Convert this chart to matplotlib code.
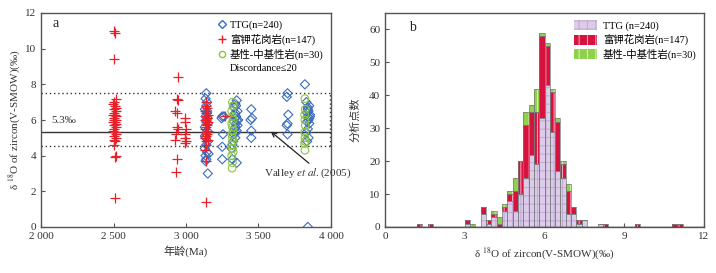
import numpy as np
import matplotlib
matplotlib.use('Agg')
from matplotlib import pyplot as plt
from matplotlib.patches import Patch
from matplotlib.lines import Line2D

plt.rcParams['font.family'] = ['Liberation Serif', 'Noto Sans CJK SC']
plt.rcParams['mathtext.fontset'] = 'stix'
plt.rcParams['hatch.linewidth'] = 0.8

# ---- panel a: age vs d18O ----
# TTG (blue diamonds)
ttg_age = [3140, 3135, 3145, 3140, 3130, 3145, 3135, 3140, 3150, 3130, 3145, 3140, 3135, 3150, 3140,
           3130, 3145, 3135, 3155, 3140, 3150, 3135, 3145, 3140, 3130, 3150,
           3250, 3245, 3255, 3250, 3250, 3262,
           3350, 3340, 3345, 3330, 3355, 3335, 3345, 3340, 3350, 3330, 3345, 3355, 3340, 3335,
           3350, 3345, 3330, 3340, 3325, 3320, 3315, 3320, 3350, 3360, 3340,
           3450, 3455, 3445, 3450, 3450,
           3700, 3695, 3705, 3700, 3695, 3700,
           3820, 3830, 3850, 3840, 3845, 3835, 3855, 3840, 3850, 3845, 3835, 3850, 3840, 3830, 3845,
           3835, 3840, 3855, 3840]
ttg_d18o = [7.5, 7.2, 7.0, 6.8, 6.6, 6.4, 6.2, 6.0, 5.8, 5.6, 5.4, 5.2, 5.0, 4.8, 4.6,
            4.4, 4.2, 4.0, 4.1, 3.8, 3.0, 3.7, 6.5, 5.9, 5.1, 6.1,
            6.2, 6.1, 5.2, 4.5, 3.8, 6.2,
            7.1, 6.9, 6.8, 6.7, 6.5, 6.3, 6.2, 6.1, 6.0, 5.9, 5.8, 5.7, 5.6, 5.5,
            5.4, 5.3, 5.2, 5.0, 4.8, 4.6, 4.4, 3.8, 3.6, 6.0, 6.4,
            6.6, 6.1, 6.0, 5.4, 5.0,
            7.5, 7.3, 6.3, 5.8, 5.7, 5.2,
            8.0, 7.0, 6.8, 6.6, 6.5, 6.4, 6.3, 6.2, 6.1, 6.0, 5.9, 5.8, 5.5, 5.3, 5.0,
            4.8, 6.7, 6.2, 0.0]

# K-rich granite (red crosses)
kg_age = [2505, 2510, 2500, 2515, 2505, 2495, 2510, 2520, 2500, 2515, 2505, 2495, 2510, 2520, 2500,
          2515, 2505, 2495, 2510, 2520, 2500, 2515, 2505, 2495, 2510, 2520, 2500, 2515, 2505, 2510,
          2505, 2515, 2510, 2510,
          2945, 2935, 2945, 2925, 2935, 2935, 2945, 2930, 2925, 2940, 2930,
          2995, 2990, 3000, 2995, 2990, 3000, 2995,
          3140, 3135, 3145, 3130, 3140, 3150, 3135, 3145, 3140, 3130, 3150, 3135, 3145, 3140,
          3130, 3150, 3135, 3145, 3140, 3130, 3150, 3135, 3140, 3130, 3140, 3140,
          3270]
kg_d18o = [11.0, 10.9, 9.4, 7.2, 7.0, 6.9, 6.8, 6.7, 6.6, 6.5, 6.4, 6.3, 6.3, 6.2, 6.1,
           6.0, 6.0, 5.9, 5.9, 5.8, 5.7, 5.6, 5.5, 5.4, 5.3, 5.2, 5.1, 5.0, 4.9, 4.8,
           4.6, 4.0, 3.9, 1.6,
           8.4, 7.2, 7.1, 6.5, 6.4, 5.6, 5.5, 5.2, 4.9, 3.8, 3.1,
           6.1, 5.9, 5.5, 5.2, 5.0, 4.8, 4.7,
           7.0, 6.8, 6.7, 6.5, 6.4, 6.3, 6.2, 6.1, 6.0, 6.0, 5.9, 5.8, 5.7, 5.6,
           5.5, 5.4, 5.3, 5.2, 5.1, 5.0, 4.9, 4.8, 4.6, 4.3, 3.7, 1.4,
           6.2]

# mafic-intermediate (green circles)
mb_age = [3320, 3325, 3315, 3320, 3325, 3315, 3320, 3325, 3315, 3320, 3325, 3315, 3320, 3325,
          3315, 3320, 3318,
          3820, 3822, 3818, 3820, 3822, 3818, 3820, 3822, 3818, 3820]
mb_d18o = [7.0, 6.8, 6.5, 6.2, 6.0, 5.8, 5.6, 5.4, 5.2, 5.0, 4.8, 4.6, 4.4, 4.2,
           4.0, 3.6, 3.3,
           7.2, 6.6, 6.3, 6.0, 5.7, 5.3, 5.0, 4.8, 4.7, 4.3]

# ---- panel b: stacked histogram, bin width 0.2 ----
bin_left = [1.2, 1.6, 3.0, 3.2, 3.6, 3.8, 4.0, 4.2, 4.4, 4.6, 4.8, 5.0, 5.2, 5.4, 5.6, 5.8,
            6.0, 6.2, 6.4, 6.6, 6.8, 7.0, 7.2, 7.4, 8.0, 8.2, 9.4, 10.8, 11.0]
ttg_cnt = [0, 0, 1, 0, 4, 1, 3, 0, 5, 8, 5, 10, 15, 22, 19, 33,
           43, 29, 17, 15, 4, 4, 1, 2, 1, 0, 0, 0, 0]
kg_cnt = [1, 1, 1, 0, 2, 1, 1, 1, 1, 2, 6, 10, 16, 13, 16, 25,
          12, 12, 15, 4, 7, 2, 1, 0, 0, 1, 1, 1, 1]
mb_cnt = [0, 0, 0, 1, 0, 0, 1, 2, 1, 1, 4, 0, 4, 2, 7, 1,
          1, 1, 1, 1, 2, 0, 0, 0, 0, 0, 0, 0, 0]

labels = ['TTG(n=240)', '富钾花岗岩(n=147)', '基性-中基性岩(n=30)']

c_blue = '#3a6cc0'
c_red = '#e8202a'
c_green = '#8cc63f'
spine_c = '#555555'

fig = plt.figure(figsize=(7.16, 2.73), dpi=100)
ax1 = fig.add_axes([41/716, 46/273, 290/716, 214/273])
ax2 = fig.add_axes([385/716, 46/273, 319/716, 214/273])

# panel a
ax1.scatter(ttg_age, ttg_d18o, marker='D', s=22, facecolors='none', edgecolors=c_blue, linewidths=0.8, zorder=3)
ax1.scatter(mb_age, mb_d18o, marker='o', s=30, facecolors='none', edgecolors=c_green, linewidths=0.8, zorder=4)
ax1.scatter(kg_age, kg_d18o, marker='+', s=50, color=c_red, linewidths=0.9, zorder=5)
ax1.axhline(5.3, color='#333333', lw=1.0, zorder=2)
ax1.plot([2000, 3990], [7.5, 7.5], ls=(0, (1, 2)), color='#333333', lw=1.0, zorder=2)
ax1.plot([2000, 3990], [4.55, 4.55], ls=(0, (1, 2)), color='#333333', lw=1.0, zorder=2)
ax1.plot([3990, 3990], [4.55, 7.5], ls=(0, (1, 2)), color='#333333', lw=1.0, zorder=2)
ax1.set_xlim(2000, 4000)
ax1.set_ylim(0, 12)
ax1.set_xticks([2000, 2500, 3000, 3500, 4000])
ax1.set_xticklabels(['2 000', '2 500', '3 000', '3 500', '4 000'])
ax1.set_yticks([0, 2, 4, 6, 8, 10, 12])
ax1.set_xlabel('年龄(Ma)', fontsize=8, color='#333333', labelpad=3)
ax1.set_ylabel(r'δ $^{18}$O of zircon(V-SMOW)(‰)', fontsize=8, color='#333333', labelpad=2)
ax1.text(2080, 11.2, 'a', fontsize=10, color='#222222')
ax1.text(2070, 5.85, '5.3‰', fontsize=8, color='#333333')
ax1.annotate('Valley $\\it{et\\ al.}$(2005)', xy=(3585, 5.35), xytext=(3540, 2.9),
             fontsize=8, color='#333333',
             arrowprops=dict(arrowstyle='->', color='#222222', lw=0.9, shrinkA=0, shrinkB=0,
                             relpos=(0.55, 1.0)))
h1 = [Line2D([], [], marker='D', ls='none', mfc='none', mec=c_blue, ms=4),
      Line2D([], [], marker='+', ls='none', color=c_red, ms=6),
      Line2D([], [], marker='o', ls='none', mfc='none', mec=c_green, ms=4.5),
      Line2D([], [], ls='none')]
ax1.legend(h1, labels + ['Discordance≤20'],
           loc='upper right', frameon=False, fontsize=7.5, handlelength=0.6, handletextpad=0.5,
           labelspacing=0.35, borderaxespad=0.3)

# panel b
x = np.array(bin_left)
t = np.array(ttg_cnt)
k = np.array(kg_cnt)
m = np.array(mb_cnt)
w = 0.2
ax2.bar(x, t, width=w, align='edge', facecolor='#dccbe9', edgecolor='#c0aed4', hatch='++', lw=0, zorder=2)
ax2.bar(x, k, width=w, bottom=t, align='edge', facecolor='#d6123e', edgecolor='#f4a0b4', hatch='||', lw=0, zorder=2)
ax2.bar(x, m, width=w, bottom=t + k, align='edge', facecolor='#8fd14f', edgecolor='#d6f2a8', hatch='||', lw=0, zorder=2)
for cnt, bot in [(t, 0), (k, t), (m, t + k)]:
    ax2.bar(x, cnt, width=w, bottom=bot, align='edge', facecolor='none', edgecolor='#7a7a7a', lw=0.5, zorder=3)
ax2.axhline(0, color='#222222', lw=1.0, zorder=4)
ax2.set_xlim(0, 12)
ax2.set_ylim(0, 65)
ax2.set_xticks([0, 3, 6, 9, 12])
ax2.set_yticks([0, 10, 20, 30, 40, 50, 60])
ax2.set_xlabel(r'δ $^{18}$O of zircon(V-SMOW)(‰)', fontsize=8, color='#333333', labelpad=3)
ax2.set_ylabel('分析点数', fontsize=8, color='#333333', labelpad=6)
ax2.text(0.9, 59.5, 'b', fontsize=10, color='#222222')
h2 = [Patch(facecolor='#dccbe9', edgecolor='#c0aed4', hatch='++', lw=0),
      Patch(facecolor='#d6123e', edgecolor='#f4a0b4', hatch='||', lw=0),
      Patch(facecolor='#8fd14f', edgecolor='#d6f2a8', hatch='||', lw=0)]
ax2.legend(h2, ['TTG (n=240)'] + labels[1:],
           loc='upper right', frameon=False, fontsize=7.5, handlelength=2.2, handleheight=1.1,
           handletextpad=0.6, labelspacing=0.3, borderaxespad=0.3)

for ax in (ax1, ax2):
    for s in ax.spines.values():
        s.set_color(spine_c)
        s.set_linewidth(1.0)
    ax.tick_params(direction='in', length=3, width=0.8, colors=spine_c, labelsize=8,
                   labelcolor='#333333')

fig.savefig('out.png', dpi=100)
